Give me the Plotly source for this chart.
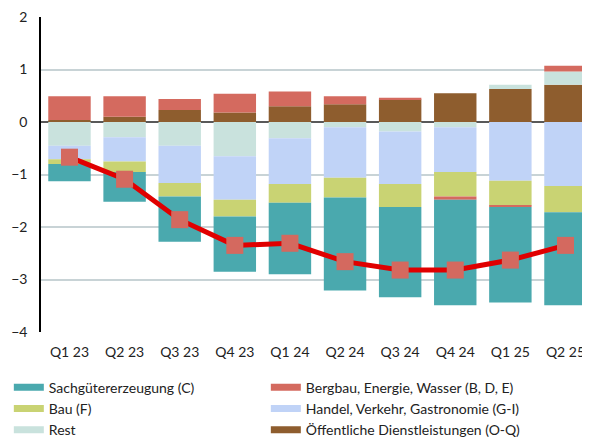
import plotly.graph_objects as go

# data (percentage points)
quarters = ["Q1 23", "Q2 23", "Q3 23", "Q4 23", "Q1 24", "Q2 24", "Q3 24", "Q4 24", "Q1 25", "Q2 25"]
oeffentlich = [0.04, 0.10, 0.23, 0.18, 0.30, 0.34, 0.43, 0.55, 0.63, 0.71]
rest = [-0.45, -0.29, -0.45, -0.65, -0.31, -0.10, -0.18, -0.10, 0.08, 0.25]
handel = [-0.26, -0.46, -0.71, -0.83, -0.87, -0.96, -1.00, -0.85, -1.12, -1.22]
bau = [-0.09, -0.20, -0.26, -0.32, -0.36, -0.38, -0.44, -0.47, -0.47, -0.50]
bergbau = [0.45, 0.39, 0.21, 0.36, 0.28, 0.15, 0.03, -0.06, -0.03, 0.11]
sachgueter = [-0.33, -0.57, -0.86, -1.05, -1.36, -1.77, -1.72, -2.01, -1.82, -1.77]
gesamt = [-0.67, -1.09, -1.86, -2.35, -2.31, -2.66, -2.82, -2.82, -2.63, -2.35]

# stacking order (first = closest to zero)
series = [
    ("Öffentliche Dienstleistungen (O-Q)", oeffentlich, "#8e5d2e", 6),
    ("Rest", rest, "#c9e2dd", 5),
    ("Handel, Verkehr, Gastronomie (G-I)", handel, "#c0d3f7", 4),
    ("Bau (F)", bau, "#c9d373", 3),
    ("Bergbau, Energie, Wasser (B, D, E)", bergbau, "#d46a5f", 2),
    ("Sachgütererzeugung (C)", sachgueter, "#4aa9ae", 1),
]

fig = go.Figure()

for name, vals, color, rank in series:
    fig.add_trace(go.Bar(
        x=quarters, y=vals, name=name,
        marker=dict(color=color, line=dict(width=0)),
        showlegend=False,
    ))
    # legend-only entry with a wide rectangle symbol
    fig.add_trace(go.Scatter(
        x=[None], y=[None], mode="lines", name=name,
        line=dict(color=color, width=7),
        legendrank=rank,
    ))

fig.add_trace(go.Scatter(
    x=quarters, y=gesamt, mode="lines+markers", name="Gesamt",
    line=dict(color="#e00000", width=5),
    marker=dict(symbol="square", size=17, color="#d4695f"),
    showlegend=False,
))

# page body adds 8px margin, so the figure is sized to fit the window
fig.update_layout(
    width=582, height=431,
    margin=dict(l=33, r=0, t=9, b=107, autoexpand=False),
    barmode="relative",
    bargap=0.23,
    plot_bgcolor="white",
    paper_bgcolor="white",
    font=dict(family="Lato", size=14, color="#222222"),
    legend=dict(
        orientation="h",
        x=-0.0586, xanchor="left",
        y=-0.126, yanchor="top",
        entrywidth=212,
        font=dict(size=14),
        traceorder="normal",
    ),
)

fig.update_xaxes(
    range=[-0.517, 9.445],
    showgrid=False, showline=False, zeroline=False,
    ticks="", ticklabelstandoff=10,
    tickfont=dict(size=14),
    ticklabeloverflow="allow",
    automargin=False,
)
fig.update_yaxes(
    range=[-4, 2], dtick=1,
    showgrid=True, gridcolor="#c8d3d6", gridwidth=1.5,
    zeroline=True, zerolinecolor="#595959", zerolinewidth=1.5,
    showline=True, linecolor="#000000", linewidth=1.5,
    ticks="", ticklabelstandoff=9,
    tickfont=dict(size=14),
    ticklabeloverflow="allow",
    automargin=False,
)

fig.write_html("out.html")
